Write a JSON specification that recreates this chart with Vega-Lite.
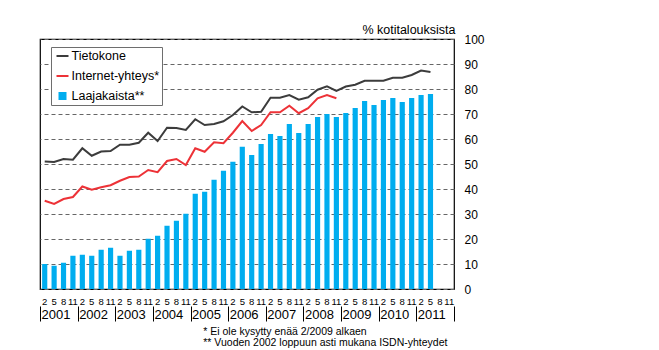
{
  "$schema": "https://vega.github.io/schema/vega-lite/v6.json",
  "width": 414,
  "height": 250,
  "autosize": "none",
  "padding": {"left": 40, "top": 39, "right": 205, "bottom": 61},
  "background": "white",
  "config": {
    "font": "Liberation Sans",
    "view": {"stroke": "#000000", "strokeWidth": 1.2},
    "axis": {"labelColor": "#000000", "titleColor": "#000000", "titleFontWeight": "normal"}
  },
  "title": {
    "text": ["* Ei ole kysytty enää 2/2009 alkaen", "** Vuoden 2002 loppuun asti mukana ISDN-yhteydet"],
    "orient": "bottom",
    "anchor": "start",
    "dx": 166,
    "offset": 5,
    "fontSize": 10.5,
    "fontWeight": "normal",
    "lineHeight": 11.5,
    "color": "#000000",
    "font": "Liberation Sans"
  },
  "datasets": {
    "main": [
      {"period": "2001-2", "laajakaista": 10, "tietokone": 51, "internet": 35.3},
      {"period": "2001-5", "laajakaista": 9.3, "tietokone": 50.8, "internet": 34},
      {"period": "2001-8", "laajakaista": 10.5, "tietokone": 52, "internet": 36},
      {"period": "2001-11", "laajakaista": 13.3, "tietokone": 51.7, "internet": 36.8},
      {"period": "2002-2", "laajakaista": 13.7, "tietokone": 56.3, "internet": 41},
      {"period": "2002-5", "laajakaista": 13.3, "tietokone": 53.3, "internet": 39.7},
      {"period": "2002-8", "laajakaista": 15.7, "tietokone": 55, "internet": 40.7},
      {"period": "2002-11", "laajakaista": 16.5, "tietokone": 55.2, "internet": 41.5},
      {"period": "2003-2", "laajakaista": 13.3, "tietokone": 57.7, "internet": 43.3},
      {"period": "2003-5", "laajakaista": 15.3, "tietokone": 57.7, "internet": 44.8},
      {"period": "2003-8", "laajakaista": 15.7, "tietokone": 58.5, "internet": 45},
      {"period": "2003-11", "laajakaista": 20.1, "tietokone": 62.5, "internet": 47.6},
      {"period": "2004-2", "laajakaista": 21.3, "tietokone": 59.2, "internet": 46.7},
      {"period": "2004-5", "laajakaista": 25.3, "tietokone": 64.5, "internet": 51.2},
      {"period": "2004-8", "laajakaista": 27.3, "tietokone": 64.4, "internet": 52},
      {"period": "2004-11", "laajakaista": 30.1, "tietokone": 63.6, "internet": 49.6},
      {"period": "2005-2", "laajakaista": 38.1, "tietokone": 67.9, "internet": 56.3},
      {"period": "2005-5", "laajakaista": 38.9, "tietokone": 65.6, "internet": 54.9},
      {"period": "2005-8", "laajakaista": 43.7, "tietokone": 66, "internet": 58.7},
      {"period": "2005-11", "laajakaista": 47.3, "tietokone": 67.1, "internet": 58.3},
      {"period": "2006-2", "laajakaista": 50.9, "tietokone": 69.6, "internet": 62.5},
      {"period": "2006-5", "laajakaista": 56.9, "tietokone": 73, "internet": 67.2},
      {"period": "2006-8", "laajakaista": 53.6, "tietokone": 70.7, "internet": 63.2},
      {"period": "2006-11", "laajakaista": 58, "tietokone": 70.9, "internet": 65.6},
      {"period": "2007-2", "laajakaista": 62, "tietokone": 76.5, "internet": 70.7},
      {"period": "2007-5", "laajakaista": 61.2, "tietokone": 76.5, "internet": 70.7},
      {"period": "2007-8", "laajakaista": 66, "tietokone": 77.6, "internet": 73.3},
      {"period": "2007-11", "laajakaista": 62.4, "tietokone": 75.7, "internet": 70.3},
      {"period": "2008-2", "laajakaista": 66, "tietokone": 76.7, "internet": 72.3},
      {"period": "2008-5", "laajakaista": 68.8, "tietokone": 79.7, "internet": 76.3},
      {"period": "2008-8", "laajakaista": 70, "tietokone": 81.1, "internet": 77.6},
      {"period": "2008-11", "laajakaista": 68.8, "tietokone": 79.2, "internet": 76.3},
      {"period": "2009-2", "laajakaista": 70.4, "tietokone": 81, "internet": null},
      {"period": "2009-5", "laajakaista": 72.4, "tietokone": 81.7, "internet": null},
      {"period": "2009-8", "laajakaista": 75.2, "tietokone": 83.3, "internet": null},
      {"period": "2009-11", "laajakaista": 73.6, "tietokone": 83.3, "internet": null},
      {"period": "2010-2", "laajakaista": 75.6, "tietokone": 83.3, "internet": null},
      {"period": "2010-5", "laajakaista": 76.4, "tietokone": 84.5, "internet": null},
      {"period": "2010-8", "laajakaista": 74.8, "tietokone": 84.5, "internet": null},
      {"period": "2010-11", "laajakaista": 76.4, "tietokone": 85.6, "internet": null},
      {"period": "2011-2", "laajakaista": 77.6, "tietokone": 87.4, "internet": null},
      {"period": "2011-5", "laajakaista": 78, "tietokone": 86.8, "internet": null}
    ],
    "years": [
      {"year": 2001}, {"year": 2002}, {"year": 2003}, {"year": 2004}, {"year": 2005}, {"year": 2006},
      {"year": 2007}, {"year": 2008}, {"year": 2009}, {"year": 2010}, {"year": 2011}, {"year": 2012}
    ]
  },
  "layer": [
    {
      "data": {"name": "main"},
      "transform": [{"fold": ["tietokone", "internet", "laajakaista"], "as": ["series", "value"]}],
      "encoding": {
        "x": {
          "field": "period",
          "type": "ordinal",
          "sort": null,
          "scale": {
            "domain": ["2001-2","2001-5","2001-8","2001-11","2002-2","2002-5","2002-8","2002-11","2003-2","2003-5","2003-8","2003-11","2004-2","2004-5","2004-8","2004-11","2005-2","2005-5","2005-8","2005-11","2006-2","2006-5","2006-8","2006-11","2007-2","2007-5","2007-8","2007-11","2008-2","2008-5","2008-8","2008-11","2009-2","2009-5","2009-8","2009-11","2010-2","2010-5","2010-8","2010-11","2011-2","2011-5","2011-8","2011-11"],
            "paddingInner": 0.45,
            "paddingOuter": 0.225
          },
          "axis": {
            "orient": "bottom",
            "title": null,
            "labelExpr": "split(datum.value, '-')[1]",
            "labelAngle": 0,
            "labelFontSize": 9.5,
            "labelPadding": 7,
            "labelBaseline": "top",
            "labelOverlap": false,
            "ticks": false,
            "domain": false,
            "grid": false
          }
        },
        "y": {
          "field": "value",
          "type": "quantitative",
          "scale": {"domain": [0, 100], "nice": false},
          "axis": {
            "orient": "right",
            "values": [0, 10, 20, 30, 40, 50, 60, 70, 80, 90, 100],
            "tickCount": 20,
            "grid": true,
            "gridDash": [4, 3],
            "gridColor": "#666666",
            "gridWidth": 1,
            "ticks": false,
            "domain": false,
            "labelFontSize": 12,
            "labelPadding": 10,
            "labelOverlap": false,
            "title": "% kotitalouksista",
            "titleAngle": 0,
            "titleAlign": "right",
            "titleBaseline": "alphabetic",
            "titleX": 1,
            "titleY": -6,
            "titleFontSize": 12.5
          }
        },
        "color": {
          "field": "series",
          "type": "nominal",
          "scale": {
            "domain": ["tietokone", "internet", "laajakaista"],
            "range": ["#3c3c3c", "#ed3237", "#00adef"]
          },
          "legend": {
            "title": null,
            "orient": "none",
            "legendX": 11,
            "legendY": 8,
            "direction": "vertical",
            "strokeColor": "#6e6e6e",
            "fillColor": "#ffffff",
            "padding": 2,
            "rowPadding": 6,
            "symbolOffset": 2.5,
            "labelFontSize": 12.5,
            "labelOffset": 2,
            "labelColor": "#000000",
            "symbolType": "stroke",
            "symbolSize": 144,
            "symbolStrokeWidth": 2,
            "labelExpr": "datum.value == 'tietokone' ? 'Tietokone' : datum.value == 'internet' ? 'Internet-yhteys*' : 'Laajakaista**'",
            "encode": {
              "symbols": {
                "update": {
                  "shape": {"signal": "datum.value == 'laajakaista' ? 'square' : 'stroke'"},
                  "size": {"signal": "datum.value == 'laajakaista' ? 36 : 144"},
                  "fill": {"signal": "datum.value == 'laajakaista' ? '#00adef' : 'transparent'"},
                  "stroke": {"signal": "datum.value == 'tietokone' ? '#3c3c3c' : datum.value == 'internet' ? '#ed3237' : 'transparent'"},
                  "strokeWidth": {"value": 2},
                  "opacity": {"value": 1}
                }
              }
            }
          }
        }
      },
      "layer": [
        {
          "transform": [{"filter": "datum.series == 'laajakaista'"}],
          "mark": {"type": "bar"}
        },
        {
          "transform": [{"filter": "datum.series != 'laajakaista'"}],
          "mark": {"type": "line", "strokeWidth": 2}
        }
      ]
    },
    {
      "data": {"name": "years"},
      "mark": {"type": "point", "opacity": 0},
      "encoding": {
        "x": {
          "field": "year",
          "type": "quantitative",
          "scale": {"domain": [2001, 2012], "nice": false, "zero": false},
          "axis": {
            "orient": "bottom",
            "title": null,
            "values": [2001, 2002, 2003, 2004, 2005, 2006, 2007, 2008, 2009, 2010, 2011, 2012],
            "tickCount": 20,
            "format": "d",
            "labelExpr": "datum.value < 2012 ? datum.label : ''",
            "offset": 17,
            "domain": false,
            "grid": false,
            "ticks": true,
            "tickSize": 15,
            "tickColor": "#000000",
            "tickWidth": 1,
            "labelAlign": "left",
            "labelOffset": 1,
            "labelPadding": -7,
            "labelBaseline": "middle",
            "labelFontSize": 13,
            "labelFlush": false,
            "labelOverlap": false,
            "labelBound": false
          }
        }
      }
    }
  ],
  "resolve": {"scale": {"x": "independent"}}
}
